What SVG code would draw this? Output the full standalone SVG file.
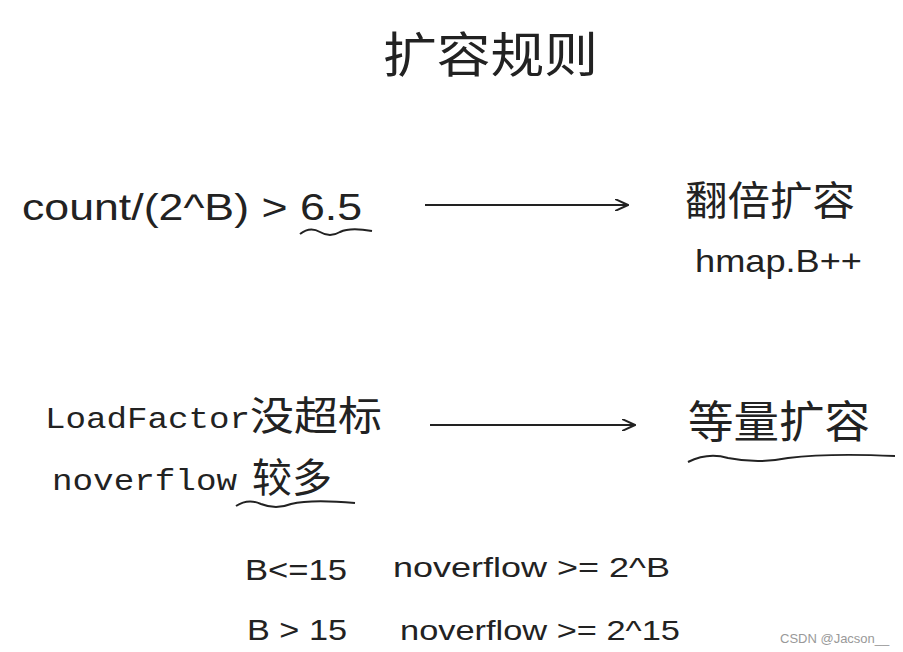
<svg xmlns="http://www.w3.org/2000/svg" width="903" height="652" viewBox="0 0 903 652">
<style>
text{font-family:"Liberation Sans","Noto Sans CJK SC",sans-serif;fill:#222}
.m{font-family:"Liberation Mono","Noto Sans CJK SC",monospace}
.c{font-family:"Noto Sans CJK SC",sans-serif}
.l{stroke:#222;stroke-width:2;fill:none}
</style>
<defs><marker id="a" markerWidth="14" markerHeight="12" refX="13" refY="6" orient="auto" markerUnits="userSpaceOnUse"><path d="M0,0 L13,6 L0,12" class="l"/></marker></defs>
<rect width="903" height="652" fill="#fff"/>
<g id="title"><text class="c" x="383" y="72" font-size="48" textLength="215" lengthAdjust="spacingAndGlyphs">扩容规则</text></g>
<g id="cond1"><text x="22" y="220" font-size="36" textLength="340" lengthAdjust="spacingAndGlyphs">count/(2^B)  &gt; 6.5</text></g>
<g id="double"><text class="c" x="685" y="215" font-size="40" textLength="170" lengthAdjust="spacingAndGlyphs">翻倍扩容</text><text x="695" y="272" font-size="32" textLength="167" lengthAdjust="spacingAndGlyphs">hmap.B++</text></g>
<g id="cond2"><text class="m" x="45" y="428" font-size="30" textLength="205" lengthAdjust="spacingAndGlyphs">LoadFactor</text><text class="c" x="250" y="430" font-size="40" textLength="132" lengthAdjust="spacingAndGlyphs">没超标</text>
<text class="m" x="52" y="490" font-size="30" textLength="185" lengthAdjust="spacingAndGlyphs">noverflow</text><text class="c" x="252" y="492" font-size="40">较多</text></g>
<g id="same"><text class="c" x="688" y="438" font-size="44" textLength="182" lengthAdjust="spacingAndGlyphs">等量扩容</text></g>
<g id="rules"><text x="245" y="580" font-size="30" textLength="102" lengthAdjust="spacingAndGlyphs">B&lt;=15</text><text x="393" y="577" font-size="28" textLength="277" lengthAdjust="spacingAndGlyphs">noverflow &gt;= 2^B</text><text x="247" y="640" font-size="30" textLength="100" lengthAdjust="spacingAndGlyphs">B &gt; 15</text><text x="400" y="640" font-size="28" textLength="280" lengthAdjust="spacingAndGlyphs">noverflow &gt;= 2^15</text></g>
<g id="connectors">
<line x1="425" y1="205" x2="628" y2="205" class="l" marker-end="url(#a)"/>
<line x1="430" y1="425" x2="635" y2="425" class="l" marker-end="url(#a)"/>
<path d="M300,234 q10,-8 20,-2 q10,6 20,0 q10,-5 32,-1" class="l" stroke-width="1.5"/>
<path d="M236,506 q12,-8 25,-2 q15,6 30,0 q20,-5 64,-1" class="l" stroke-width="1.5"/>
<path d="M688,462 q20,-10 40,-4 q30,6 60,0 q40,-5 107,-2" class="l" stroke-width="1.5"/>
</g>
<text x="780" y="643" font-size="13" style="fill:#999">CSDN @Jacson__</text>
</svg>
